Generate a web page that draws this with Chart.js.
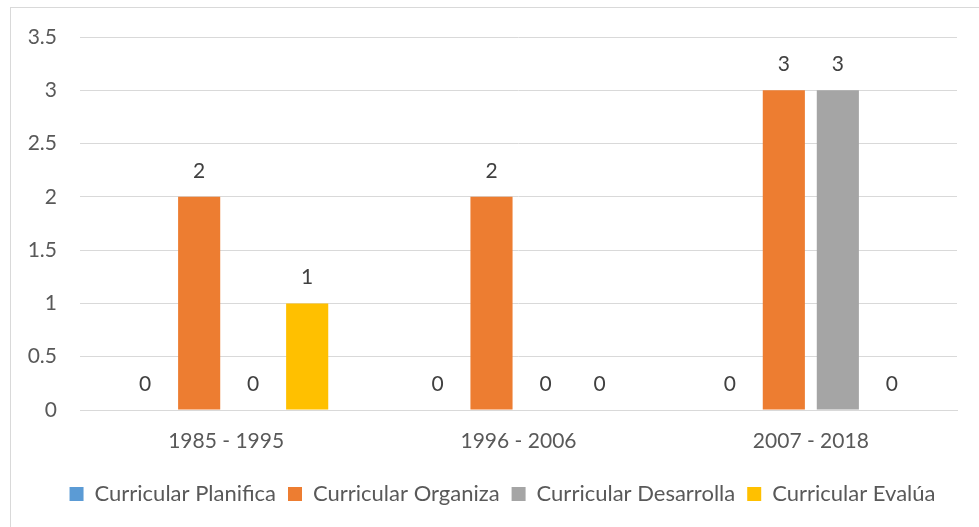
<!DOCTYPE html>
<html>
<head>
<meta charset="utf-8">
<script src="https://cdn.jsdelivr.net/npm/chart.js@4/dist/chart.umd.min.js"></script>
<style>
  html, body { margin: 0; padding: 0; background: #fff; }
  #wrap { position: relative; width: 979px; height: 527px; overflow: hidden; }
  #frame { position: absolute; left: 10px; top: 7px; width: 1000px; height: 600px; border: 1px solid #D9D9D9; box-sizing: border-box; }
  #c { position: absolute; left: 0; top: 0; }
</style>
</head>
<body>
<div id="wrap">
  <div id="frame"></div>
  <canvas id="c" width="979" height="527"></canvas>
</div>
<script>
const categories = ["1985 - 1995", "1996 - 2006", "2007 - 2018"];
const seriesNames = ["Curricular Planifica", "Curricular Organiza", "Curricular Desarrolla", "Curricular Evalúa"];
const planifica = [0, 0, 0];
const organiza = [2, 2, 3];
const desarrolla = [0, 0, 3];
const evalua = [1, 0, 0];
const colors = ["#5B9BD5", "#ED7D31", "#A5A5A5", "#FFC000"];

const FONT = "Lato, 'Open Sans', sans-serif";

const valueLabels = {
  id: "valueLabels",
  afterDatasetsDraw(chart) {
    const ctx = chart.ctx;
    ctx.save();
    ctx.font = "21px " + FONT;
    ctx.fillStyle = "#404040";
    ctx.textAlign = "center";
    ctx.textBaseline = "middle";
    chart.data.datasets.forEach((ds, i) => {
      const meta = chart.getDatasetMeta(i);
      meta.data.forEach((el, j) => {
        ctx.fillText(String(ds.data[j]), el.x, el.y - 26);
      });
    });
    ctx.restore();
  }
};

const legendShift = {
  id: "legendShift",
  afterLayout(chart) {
    if (chart.legend) {
      chart.legend.left += 19;
      chart.legend.right += 19;
    }
  }
};

const seriesData = [planifica, organiza, desarrolla, evalua];

new Chart(document.getElementById("c"), {
  type: "bar",
  data: {
    labels: categories,
    datasets: seriesNames.map((n, i) => ({
      label: n,
      data: seriesData[i],
      backgroundColor: colors[i],
      borderWidth: 0,
      categoryPercentage: 0.739,
      barPercentage: 0.78
    }))
  },
  options: {
    responsive: false,
    animation: false,
    devicePixelRatio: 1,
    layout: { padding: { left: 10, top: 37, right: 22, bottom: 12 } },
    plugins: {
      legend: {
        position: "bottom",
        labels: {
          boxWidth: 14,
          boxHeight: 14,
          padding: 12,
          color: "#595959",
          font: { family: FONT, size: 22 }
        }
      },
      tooltip: { enabled: false }
    },
    scales: {
      x: {
        grid: { display: false, drawTicks: false },
        border: { display: true, color: "#D9D9D9" },
        ticks: { color: "#595959", font: { family: FONT, size: 21 }, padding: 19 },
        afterFit(s) { s.height = 61; }
      },
      y: {
        min: 0,
        max: 3.5,
        ticks: {
          stepSize: 0.5,
          color: "#595959",
          font: { family: FONT, size: 21 },
          padding: 23,
          callback: (v) => String(v)
        },
        grid: { color: "#D9D9D9", drawTicks: false },
        border: { display: false },
        afterFit(s) { s.width = 70; }
      }
    }
  },
  plugins: [valueLabels, legendShift]
});
</script>
</body>
</html>
